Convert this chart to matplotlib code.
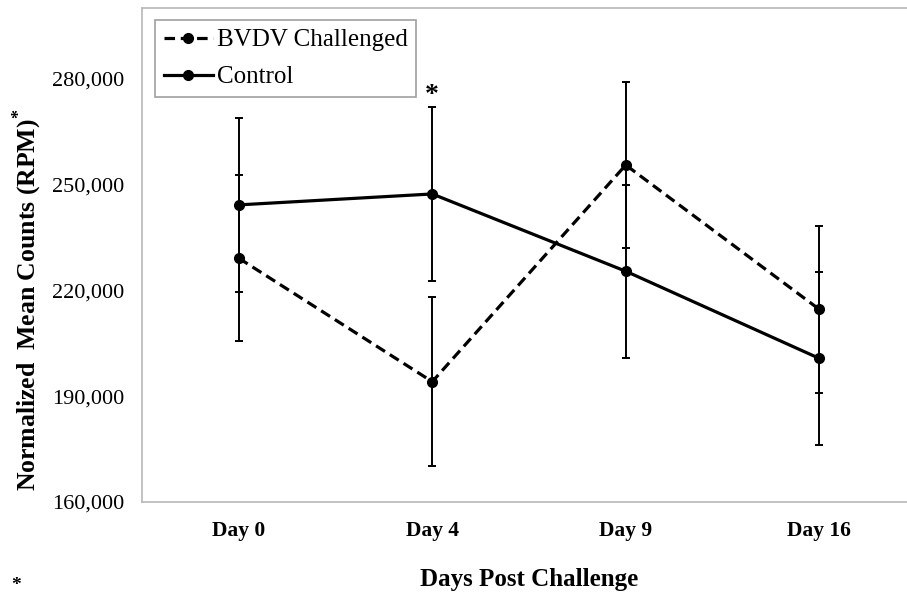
import numpy as np
import matplotlib
matplotlib.use("Agg")
import matplotlib.pyplot as plt

plt.rcParams['font.family'] = ['Liberation Serif', 'DejaVu Serif']
plt.rcParams['mathtext.fontset'] = 'custom'
plt.rcParams['mathtext.rm'] = 'Liberation Serif'
plt.rcParams['mathtext.bf'] = 'Liberation Serif:bold'

days = ["Day 0", "Day 4", "Day 9", "Day 16"]
bvdv_mean = [229100, 194100, 255500, 214600]
bvdv_err = [23600, 23900, 23600, 23600]
control_mean = [244200, 247300, 225400, 200700]
control_err = [24700, 24700, 24500, 24500]
y_ticks = [160000, 190000, 220000, 250000, 280000]

fig = plt.figure(figsize=(9.07, 5.94), dpi=100)
ax = fig.add_axes([142 / 907, 92 / 594, 774 / 907, 494 / 594])

x = np.arange(len(days))

ax.errorbar(x, bvdv_mean, yerr=bvdv_err, color='black', lw=2.3,
            linestyle=(0, (3.3, 1.8)), marker='o', ms=7,
            ecolor='black', elinewidth=1.4, capsize=3, capthick=1.4,
            label='BVDV Challenged')
ax.errorbar(x, control_mean, yerr=control_err, color='black', lw=2.3,
            linestyle='-', marker='o', ms=7,
            ecolor='black', elinewidth=1.4, capsize=3, capthick=1.4,
            label='Control')

# significance mark at Day 4
ax.text(1, control_mean[1] + control_err[1] - 300, '*', ha='center',
        va='bottom', fontsize=20, fontweight='bold')

ax.set_xlim(-0.5, 3.5)
ax.set_ylim(160000, 300000)
ax.set_xticks(x)
ax.set_xticklabels(days, fontweight='bold', fontsize=15.5)
ax.set_yticks(y_ticks)
ax.set_yticklabels(['{:,}'.format(v) for v in y_ticks], fontsize=16)
ax.tick_params(length=0, pad=13)
ax.tick_params(axis='x', pad=14)

for s in ax.spines.values():
    s.set_color('#b8b8b8')
    s.set_linewidth(1.2)

ax.set_xlabel('Days Post Challenge', fontsize=18, fontweight='bold')
ax.xaxis.set_label_coords(0.5, -0.134)
ax.set_ylabel(r'Normalized  Mean Counts (RPM)$^{\mathbf{*}}$', fontsize=18.5,
              fontweight='bold')
ax.yaxis.set_label_coords(-0.127, 0.41)

handles, labels = ax.get_legend_handles_labels()
handles = [h[0] for h in handles]
leg = ax.legend(handles, labels, loc='upper left',
                bbox_to_anchor=(0.0168, 0.976), borderaxespad=0,
                prop={'family': 'Liberation Serif', 'size': 18},
                fancybox=False, edgecolor='#a0a0a0',
                handlelength=1.95, handletextpad=0.15, labelspacing=0.58,
                borderpad=0.36, framealpha=1)
leg.get_frame().set_linewidth(1.2)

fig.text(0.012, 0.006, '*', fontsize=14, fontweight='bold')

fig.savefig('out.png', dpi=100)
